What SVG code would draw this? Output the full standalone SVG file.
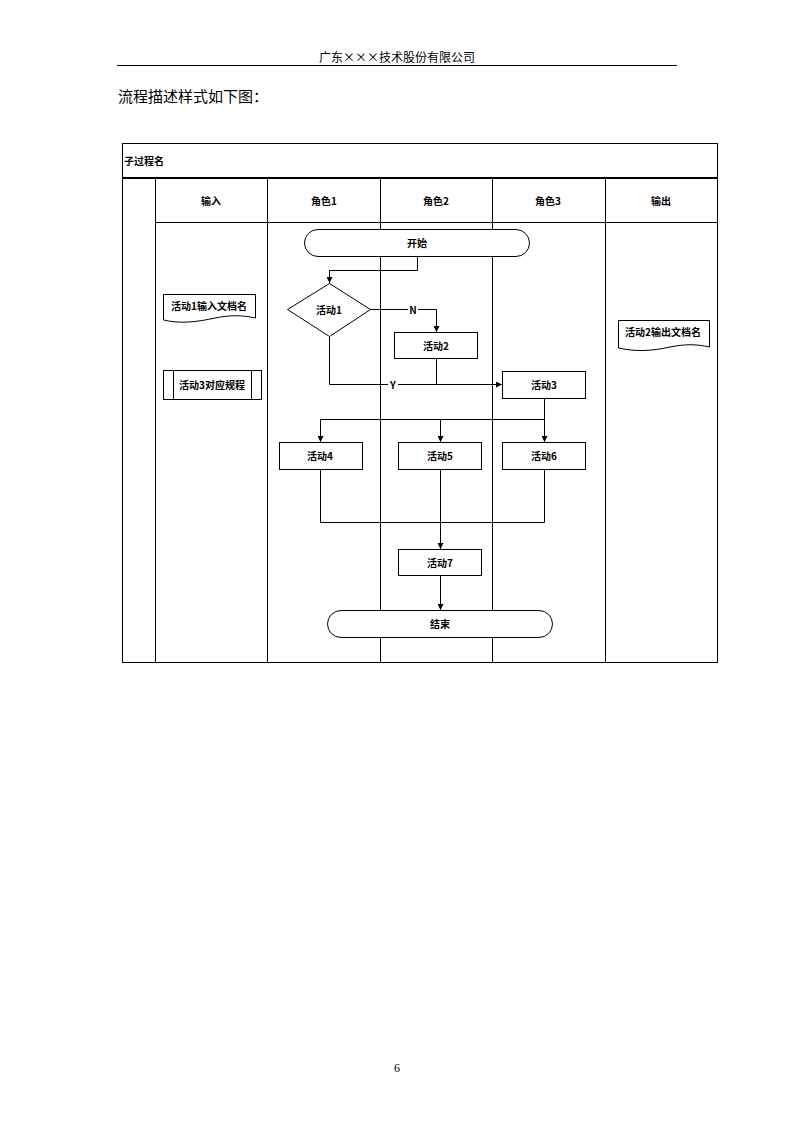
<svg xmlns="http://www.w3.org/2000/svg" width="794" height="1123" viewBox="0 0 794 1123">
<defs>
<style>
.ln{stroke:#000;stroke-width:1;fill:none}
.bx{stroke:#000;stroke-width:1;fill:#fff}
.t{font-family:"Noto Sans CJK SC","Liberation Sans",sans-serif;font-size:10px;font-weight:bold;fill:#000;text-anchor:middle;dominant-baseline:central}
.h{font-family:"Noto Sans CJK SC","Liberation Sans",sans-serif;fill:#000}
</style>
<marker id="ar" viewBox="0 0 8 8" refX="8" refY="4" markerWidth="6" markerHeight="6" orient="auto" markerUnits="userSpaceOnUse">
<path d="M0,0 L8,4 L0,8 Z" fill="#000"/>
</marker>
</defs>
<rect width="794" height="1123" fill="#fff"/>
<g id="page-header">
<text class="h" x="397" y="62" font-size="12" text-anchor="middle">广东×××技术股份有限公司</text>
<line x1="117" y1="65.5" x2="677" y2="65.5" stroke="#000" stroke-width="1"/>
<text class="h" x="118" y="102" font-size="15">流程描述样式如下图：</text>
<text x="397" y="1072" font-family="Liberation Serif,serif" font-size="12" text-anchor="middle" fill="#000">6</text>
</g>
<g id="table">
<rect class="ln" x="122.5" y="143.5" width="595" height="519"/>
<line x1="122" y1="178" x2="718" y2="178" stroke="#000" stroke-width="2"/>
<text class="t" x="124" y="160" style="text-anchor:start">子过程名</text>
<line class="ln" x1="155.5" y1="178" x2="155.5" y2="663"/>
<line class="ln" x1="267.5" y1="178" x2="267.5" y2="663"/>
<line class="ln" x1="380.5" y1="178" x2="380.5" y2="663"/>
<line class="ln" x1="492.5" y1="178" x2="492.5" y2="663"/>
<line class="ln" x1="605.5" y1="178" x2="605.5" y2="663"/>
<line class="ln" x1="155" y1="222.5" x2="718" y2="222.5"/>
<text class="t" x="211" y="200">输入</text>
<text class="t" x="324" y="200">角色1</text>
<text class="t" x="436" y="200">角色2</text>
<text class="t" x="548" y="200">角色3</text>
<text class="t" x="661" y="200">输出</text>
</g>
<g id="connectors">
<polyline class="ln" points="417.5,256 417.5,270.5 329.5,270.5 329.5,283" marker-end="url(#ar)"/>
<polyline class="ln" points="370,309.5 436.5,309.5 436.5,332" marker-end="url(#ar)"/>
<polyline class="ln" points="329.5,336 329.5,384.5 502,384.5" marker-end="url(#ar)"/>
<line class="ln" x1="436.5" y1="358" x2="436.5" y2="384.5"/>
<polyline class="ln" points="544.5,398 544.5,419.5"/>
<polyline class="ln" points="320.5,419.5 544.5,419.5"/>
<line class="ln" x1="320.5" y1="419.5" x2="320.5" y2="442" marker-end="url(#ar)"/>
<line class="ln" x1="440.5" y1="419.5" x2="440.5" y2="442" marker-end="url(#ar)"/>
<line class="ln" x1="544.5" y1="419.5" x2="544.5" y2="442" marker-end="url(#ar)"/>
<polyline class="ln" points="320.5,469 320.5,522.5 544.5,522.5 544.5,469"/>
<line class="ln" x1="440.5" y1="469" x2="440.5" y2="549" marker-end="url(#ar)"/>
<line class="ln" x1="440.5" y1="575" x2="440.5" y2="610" marker-end="url(#ar)"/>
<rect x="408" y="303" width="10" height="12" fill="#fff"/>
<text class="t" x="413" y="309">N</text>
<rect x="388" y="378" width="10" height="12" fill="#fff"/>
<text class="t" x="393" y="384">Y</text>
</g>
<g id="start">
<rect class="bx" x="304.5" y="229.5" width="225" height="27" rx="13.5"/>
<text class="t" x="417" y="242">开始</text>
</g>
<g id="activity1">
<polygon class="bx" points="329.5,283.5 370.5,309.5 329.5,336.5 287.5,309.5"/>
<text class="t" x="329" y="309">活动1</text>
</g>
<g id="activity2">
<rect class="bx" x="394.5" y="332.5" width="83" height="26"/>
<text class="t" x="436" y="345">活动2</text>
</g>
<g id="activity3">
<rect class="bx" x="502.5" y="371.5" width="83" height="27"/>
<text class="t" x="544" y="384">活动3</text>
</g>
<g id="activity4">
<rect class="bx" x="279.5" y="442.5" width="83" height="27"/>
<text class="t" x="320" y="455">活动4</text>
</g>
<g id="activity5">
<rect class="bx" x="398.5" y="442.5" width="83" height="27"/>
<text class="t" x="440" y="455">活动5</text>
</g>
<g id="activity6">
<rect class="bx" x="502.5" y="442.5" width="83" height="27"/>
<text class="t" x="544" y="455">活动6</text>
</g>
<g id="activity7">
<rect class="bx" x="398.5" y="549.5" width="83" height="26"/>
<text class="t" x="440" y="562">活动7</text>
</g>
<g id="end">
<rect class="bx" x="327.5" y="610.5" width="225" height="27" rx="13.5"/>
<text class="t" x="440" y="623">结束</text>
</g>
<g id="input-doc">
<path class="bx" d="M163.5,294.5 H255.5 V318 C242,315 230,315 215,318 C197,322 180,324 163.5,320 Z"/>
<text class="t" x="209" y="305">活动1输入文档名</text>
</g>
<g id="input-procedure">
<rect class="bx" x="163.5" y="370.5" width="98" height="29"/>
<line class="ln" x1="173.5" y1="370.5" x2="173.5" y2="399.5"/>
<line class="ln" x1="251.5" y1="370.5" x2="251.5" y2="399.5"/>
<text class="t" x="212" y="384">活动3对应规程</text>
</g>
<g id="output-doc">
<path class="bx" d="M618.5,320.5 H709.5 V347 C696,344 685,344 670,347 C652,351 636,352 618.5,348 Z"/>
<text class="t" x="663" y="331">活动2输出文档名</text>
</g>
</svg>
